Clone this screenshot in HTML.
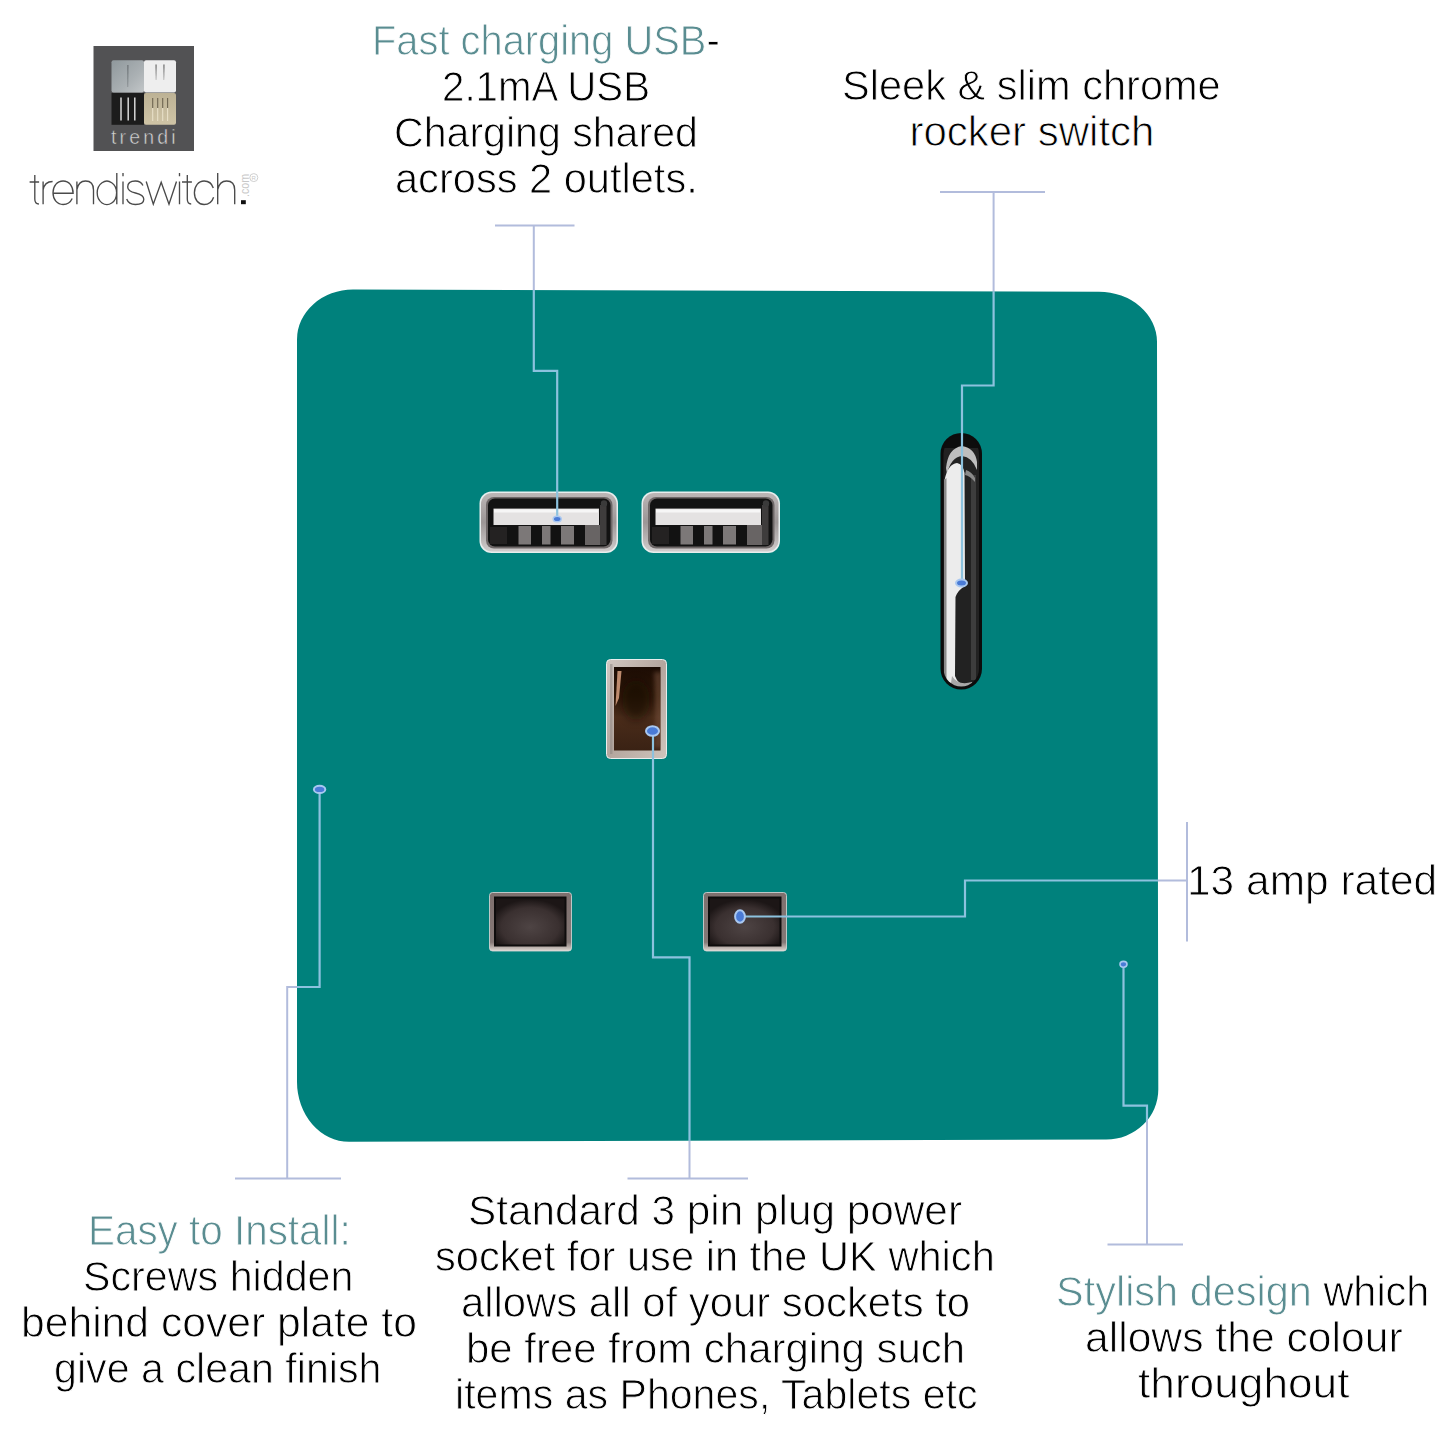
<!DOCTYPE html>
<html><head><meta charset="utf-8">
<style>
html,body{margin:0;padding:0;background:#fff;}
body{width:1445px;height:1445px;position:relative;overflow:hidden;font-family:"Liberation Sans",sans-serif;}
.tx{position:absolute;font-size:42px;line-height:1;white-space:nowrap;color:#000;transform-origin:0 0;-webkit-text-stroke:0.9px #fff;}
.t{color:#5a8d91;}
.abs{position:absolute;}
#plate{position:absolute;left:297px;top:290px;width:861px;height:851px;background:#00817c;border-radius:58px;}
svg{position:absolute;left:0;top:0;}
</style></head><body>
<svg width="1445" height="1445" viewBox="0 0 1445 1445">
  <path id="platep" d="M353 289.5L1099 291.8A58 50 0 0 1 1157 341.8L1158.3 1089.5A52 50 0 0 1 1106.3 1139.5L349 1141.7A52 60 0 0 1 297 1081.7L297 339.5A56 50 0 0 1 353 289.5Z" fill="#00817c"/>
  <defs>
    <linearGradient id="bez" x1="0" y1="0" x2="0" y2="1">
      <stop offset="0" stop-color="#bcb6b6"/><stop offset="0.5" stop-color="#9c9696"/><stop offset="1" stop-color="#d0cccc"/>
    </linearGradient>
    <linearGradient id="sw" x1="0" y1="0" x2="1" y2="0">
      <stop offset="0" stop-color="#1a1a1a"/><stop offset="0.15" stop-color="#9a9a9a"/><stop offset="0.3" stop-color="#f2f2f2"/>
      <stop offset="0.48" stop-color="#d8d8d8"/><stop offset="0.55" stop-color="#3a3a3a"/><stop offset="0.85" stop-color="#2a2a2a"/><stop offset="1" stop-color="#101010"/>
    </linearGradient>
    <linearGradient id="hole" x1="0" y1="0" x2="0" y2="1">
      <stop offset="0" stop-color="#2a2224"/><stop offset="1" stop-color="#5c5052"/>
    </linearGradient>
    <linearGradient id="earth" x1="0" y1="0" x2="1" y2="1">
      <stop offset="0" stop-color="#2a160c"/><stop offset="0.5" stop-color="#5a3420"/><stop offset="1" stop-color="#3a2214"/>
    </linearGradient>
  </defs>
  <!-- logo -->
  <g id="logo">
    <linearGradient id="tl" x1="0" y1="0" x2="1" y2="1"><stop offset="0" stop-color="#8f989c"/><stop offset="0.6" stop-color="#aab0b3"/><stop offset="1" stop-color="#c2c6c8"/></linearGradient>
    <linearGradient id="br" x1="0" y1="0" x2="0" y2="1"><stop offset="0" stop-color="#bdb295"/><stop offset="1" stop-color="#cfc4a6"/></linearGradient>
    <rect x="93.5" y="46" width="100.5" height="105" fill="#525254"/>
    <rect x="111.5" y="60.2" width="32.5" height="32.3" rx="2" fill="url(#tl)"/>
    <rect x="144" y="60.2" width="32" height="32.3" rx="2" fill="#eeeeee"/>
    <rect x="111.5" y="93" width="32.5" height="31.8" fill="#1c1c1c"/>
    <rect x="144" y="93" width="32" height="31.8" rx="2" fill="url(#br)"/>
    <path d="M127.4 65L128.4 65L128.1 87L127.7 87Z" fill="#5e6468"/>
    <path d="M155.5 64.5L156.6 64.5L156.2 80L155.9 80Z" fill="#555"/>
    <path d="M163.4 64.5L164.5 64.5L164.1 80L163.8 80Z" fill="#555"/>
    <line x1="121" y1="97.5" x2="121" y2="120.5" stroke="#e4e4e4" stroke-width="1.4"/>
    <line x1="128.2" y1="97.5" x2="128.2" y2="120.5" stroke="#e4e4e4" stroke-width="1.4"/>
    <line x1="134.8" y1="97.5" x2="134.8" y2="120.5" stroke="#e4e4e4" stroke-width="1.4"/>
    <g stroke-width="1.1"><line x1="152.7" y1="98" x2="152.7" y2="108" stroke="#6e6450"/><line x1="152.7" y1="108" x2="152.7" y2="121" stroke="#e8e0c8"/>
    <line x1="157.7" y1="98" x2="157.7" y2="108" stroke="#6e6450"/><line x1="157.7" y1="108" x2="157.7" y2="121" stroke="#e8e0c8"/>
    <line x1="162.7" y1="98" x2="162.7" y2="108" stroke="#6e6450"/><line x1="162.7" y1="108" x2="162.7" y2="121" stroke="#e8e0c8"/>
    <line x1="167.6" y1="98" x2="167.6" y2="108" stroke="#6e6450"/><line x1="167.6" y1="108" x2="167.6" y2="121" stroke="#e8e0c8"/></g>
    <text x="111" y="143.5" font-family="Liberation Sans" font-size="19.5" fill="#d4d4d4" stroke="#525254" stroke-width="0.45" textLength="64.5" lengthAdjust="spacing">trendi</text>
  </g>

  <g id="tsw" fill="none" stroke="#4a4a4a" stroke-width="1.35" stroke-linecap="butt">
    <path d="M34.8 175V199Q34.8 204 38.9 204M29.6 182H39.1"/>
    <path d="M43.1 181.5V204.3M43.1 190Q44.5 181.5 52.6 181.5"/>
    <path d="M53.3 193.2H73.1C73.1 186 69 181 63.1 181C57.1 181 53 186 53 192.8C53 199.5 57.1 204.5 63.1 204.5C67.6 204.5 70.6 202 72.2 198.5"/>
    <path d="M76.9 181.5V204.3M76.9 189.5C78 184 81 181 85.5 181C90.5 181 93.5 184 93.5 190V204.3"/>
    <path d="M116.8 172.9V204.3M116.6 192.8A9.7 11.7 0 1 0 116.6 192.9"/>
    <path d="M123 181.5V204.3M123 172.9V176.3"/>
    <path d="M142.9 185.6C141.6 182.6 139 181 135.3 181C130.8 181 127.7 183.2 127.7 187C127.7 191 131.2 192.1 135.5 193C140.1 194 143.8 195.5 143.8 199.3C143.8 202.7 140.2 204.5 135.4 204.5C131.1 204.5 128 202.6 126.7 199"/>
    <path d="M146.2 181.5L153.3 204.2L161.2 182.2L169 204.2L176.5 181.5"/>
    <path d="M179.5 181.5V204.3M179.5 172.9V176.3"/>
    <path d="M187.3 175V199Q187.3 204 191.2 204M182 182H191.9"/>
    <path d="M213.3 188C211.9 183.5 208.5 181 204.1 181C198.5 181 194.4 186 194.4 192.8C194.4 199.6 198.5 204.5 204.1 204.5C208.6 204.5 212 202 213.6 197.2"/>
    <path d="M217.7 172.9V204.3M217.7 189.5C218.9 184 222 181 226.6 181C231.6 181 234.7 184 234.7 190V204.3"/>
  </g>
  <rect x="241" y="200.2" width="4.8" height="4" fill="#111"/>
  <text transform="translate(248.6 197) rotate(-90)" font-family="Liberation Sans" font-size="12.5" fill="#c8c8c8" textLength="23" lengthAdjust="spacingAndGlyphs">.com</text>
  <circle cx="253.8" cy="177.6" r="4" fill="none" stroke="#d0d0d0" stroke-width="1"/>
  <text x="251.6" y="180" font-family="Liberation Sans" font-size="6" fill="#c8c8c8">R</text>
  <!-- USB ports -->
  <g id="usb1">
    <rect x="479.5" y="491.5" width="138.5" height="61.5" rx="12" fill="#e8eeee"/>
    <rect x="481" y="493" width="135.5" height="58.5" rx="11" fill="url(#bez)"/>
    <rect x="486" y="497" width="126.5" height="51.5" rx="8" fill="#6e6868"/>
    <rect x="488" y="498.5" width="122.5" height="48" rx="7" fill="#121212"/>
    <rect x="493.5" y="508.6" width="105.5" height="16.4" fill="#e4e2e2"/>
    <rect x="494" y="509.5" width="104" height="3" fill="#f6f6f6"/>
    <rect x="490" y="527" width="17" height="17" fill="#242222"/>
    <rect x="518.5" y="526" width="12.5" height="18.5" fill="#7c7878"/>
    <rect x="542" y="526" width="8.5" height="18.5" fill="#7c7878"/>
    <rect x="561" y="526" width="13" height="18.5" fill="#7c7878"/>
    <rect x="585" y="525" width="16" height="20" fill="#686464"/>
    <rect x="600" y="505" width="6.5" height="40" fill="#3e3c3c"/>
    <circle cx="604" cy="503.5" r="3.2" fill="#3a3a3a"/>
  </g>
  <use href="#usb1" x="162" y="0"/>
  <!-- switch -->
  <clipPath id="swc"><rect x="943.5" y="436" width="35.5" height="250.5" rx="17.7"/></clipPath>
  <filter id="swb" x="-20%" y="-5%" width="140%" height="110%"><feGaussianBlur stdDeviation="0.7"/></filter>
  <rect x="940.5" y="433" width="41.5" height="256.5" rx="20.7" fill="#0c0c0c"/>
  <g clip-path="url(#swc)"><g filter="url(#swb)">
    <rect x="940" y="430" width="45" height="265" fill="#202020"/>
    <rect x="940" y="430" width="45" height="18" fill="#0e0e0e"/>
    <rect x="971" y="475" width="5" height="205" fill="#3c3c3c"/>
    <path d="M946 468Q948 448 962 446Q975 448 977 462L977 470Q972 457 962 456Q951 457 947 474Z" fill="#bebebe"/>
    <path d="M966 470Q972 472 975 478L975 482Q970 476 965 475Z" fill="#8a8a8a"/>
    <path d="M944.5 480Q948 464 957 463Q963 464 964.5 473L965 586Q958 590 955.5 597L955 676Q958 684 966 687L944 690Z" fill="#ececec"/>
    <path d="M944 480L946.5 478L946.5 682L944 684Z" fill="#8a8a8a"/>
    <path d="M952 676Q958 686 972 682L976 690L950 690Z" fill="#a8a8a8"/>
  </g></g>
  <!-- earth -->
  <linearGradient id="ebz" x1="0" y1="0" x2="1" y2="1"><stop offset="0" stop-color="#d2c8c2"/><stop offset="0.5" stop-color="#b4a69e"/><stop offset="1" stop-color="#cfc4bc"/></linearGradient>
  <linearGradient id="ein" x1="0" y1="0" x2="0" y2="1"><stop offset="0" stop-color="#1c0c04"/><stop offset="0.35" stop-color="#2e1808"/><stop offset="0.6" stop-color="#4a2c1a"/><stop offset="1" stop-color="#3a2214"/></linearGradient>
  <rect x="606.5" y="659.5" width="60" height="99" rx="4" fill="url(#ebz)" stroke="#e9eeee" stroke-width="1"/>
  <rect x="610" y="664" width="2.5" height="90" fill="#8c8480" opacity="0.5"/>
  <rect x="614" y="667" width="46.5" height="83.5" fill="url(#ein)"/>
  <filter id="bl4" x="-50%" y="-50%" width="200%" height="200%"><feGaussianBlur stdDeviation="4"/></filter><filter id="bl2" x="-50%" y="-50%" width="200%" height="200%"><feGaussianBlur stdDeviation="2"/></filter>
  <clipPath id="ecl"><rect x="614" y="667" width="46.5" height="83.5"/></clipPath>
  <g clip-path="url(#ecl)"><ellipse cx="636" cy="700" rx="14" ry="20" fill="#140804" opacity="0.6" filter="url(#bl4)"/>
  <path d="M654 672L662 672L662 748L654 748Q657 720 654 672Z" fill="#7a5440" opacity="0.55" filter="url(#bl2)"/></g>
  <path d="M617.5 671L621.5 671L619 698L615.5 706Z" fill="#d8a080" opacity="0.85"/>
  <!-- neutral/live -->
  <linearGradient id="nbz" x1="0" y1="0" x2="0" y2="1"><stop offset="0" stop-color="#7e706e"/><stop offset="0.85" stop-color="#857876"/><stop offset="1" stop-color="#e0d8d2"/></linearGradient>
  <radialGradient id="nin" cx="0.5" cy="0.62" r="0.6"><stop offset="0" stop-color="#4e4444"/><stop offset="0.7" stop-color="#3a3030"/><stop offset="1" stop-color="#1c1616"/></radialGradient>
  <rect x="489.5" y="892.5" width="82" height="58.5" rx="3" fill="url(#nbz)" stroke="#dcdcdc" stroke-width="0.8"/>
  <rect x="494" y="896.5" width="72.5" height="50" fill="#0e0c0c"/>
  <rect x="496" y="898.5" width="68.5" height="46" fill="url(#nin)"/>
  <rect x="703.5" y="892.5" width="83" height="58.5" rx="3" fill="url(#nbz)" stroke="#dcdcdc" stroke-width="0.8"/>
  <rect x="708" y="896.5" width="73.5" height="50" fill="#0e0c0c"/>
  <rect x="710" y="898.5" width="69.5" height="46" fill="url(#nin)"/>
  <!-- connectors -->
  <clipPath id="inplate"><path d="M353 289.5L1099 291.8A58 50 0 0 1 1157 341.8L1158.3 1089.5A52 50 0 0 1 1106.3 1139.5L349 1141.7A52 60 0 0 1 297 1081.7L297 339.5A56 50 0 0 1 353 289.5Z"/></clipPath>
  <mask id="outplate"><rect width="1445" height="1445" fill="#fff"/><path d="M353 289.5L1099 291.8A58 50 0 0 1 1157 341.8L1158.3 1089.5A52 50 0 0 1 1106.3 1139.5L349 1141.7A52 60 0 0 1 297 1081.7L297 339.5A56 50 0 0 1 353 289.5Z" fill="#000"/></mask>
  <g fill="none" stroke="#b2bcdc" stroke-width="2" mask="url(#outplate)">
    <path d="M495 225.5H574.5M533.8 225.5V370.8H557.2V519"/>
    <path d="M940 192H1045M993.6 192V385.5H962V583"/>
    <path d="M627.5 1178.5H748M689.5 1178.5V957.3H653V731"/>
    <path d="M1187 822V941.5M1187 880.5H965V916.5H740"/>
    <path d="M235 1178.5H341M287.2 1178.5V987H319.6V789.4"/>
    <path d="M1107.5 1244.5H1183M1147 1244.5V1105.6H1123.5V964.3"/>
  </g>
  <g fill="none" stroke="#8cc2de" stroke-width="2.2" clip-path="url(#inplate)">
    <path d="M495 225.5H574.5M533.8 225.5V370.8H557.2V519"/>
    <path d="M940 192H1045M993.6 192V385.5H962V583"/>
    <path d="M627.5 1178.5H748M689.5 1178.5V957.3H653V731"/>
    <path d="M1187 822V941.5M1187 880.5H965V916.5H740"/>
    <path d="M235 1178.5H341M287.2 1178.5V987H319.6V789.4"/>
    <path d="M1107.5 1244.5H1183M1147 1244.5V1105.6H1123.5V964.3"/>
  </g>
  <g fill="#4a7bd6" stroke="#a9c8f0" stroke-width="2">
    <ellipse cx="557.2" cy="519" rx="4" ry="2.8" stroke-width="1.5"/>
    <ellipse cx="961.5" cy="583" rx="5.5" ry="3.5"/>
    <ellipse cx="652.5" cy="731" rx="6.5" ry="4.8"/>
    <ellipse cx="740" cy="916.5" rx="4.9" ry="6.3"/>
    <ellipse cx="319.6" cy="789.4" rx="5.7" ry="3.6"/>
    <ellipse cx="1123.5" cy="964.3" rx="3.5" ry="2.9" stroke-width="1.6"/>
  </g>
</svg>
<div class="tx" style="left:371.7px;top:20.0px;transform:scaleX(0.9486)"><span class=t>Fast charging USB</span>-</div>
<div class="tx" style="left:441.5px;top:66.0px;transform:scaleX(0.9583)">2.1mA USB</div>
<div class="tx" style="left:393.6px;top:112.0px;transform:scaleX(0.9786)">Charging shared</div>
<div class="tx" style="left:395.0px;top:158.0px;transform:scaleX(0.9900)">across 2 outlets.</div>
<div class="tx" style="left:841.5px;top:65.1px;transform:scaleX(0.9894)">Sleek &amp; slim chrome</div>
<div class="tx" style="left:909.4px;top:111.1px;transform:scaleX(1.0000)">rocker switch</div>
<div class="tx" style="left:1187.4px;top:859.5px;transform:scaleX(1.0108)">13 amp rated</div>
<div class="tx" style="left:87.7px;top:1210.0px;transform:scaleX(0.9619)"><span class=t>Easy to Install:</span></div>
<div class="tx" style="left:83.2px;top:1256.0px;transform:scaleX(0.9818)">Screws hidden</div>
<div class="tx" style="left:21.0px;top:1302.3px;transform:scaleX(1.0153)">behind cover plate to</div>
<div class="tx" style="left:54.4px;top:1347.7px;transform:scaleX(0.9809)">give a clean finish</div>
<div class="tx" style="left:467.7px;top:1189.9px;transform:scaleX(1.0074)">Standard 3 pin plug power</div>
<div class="tx" style="left:435.0px;top:1236.0px;transform:scaleX(0.9909)">socket for use in the UK which</div>
<div class="tx" style="left:460.9px;top:1282.0px;transform:scaleX(0.9959)">allows all of your sockets to</div>
<div class="tx" style="left:465.5px;top:1327.7px;transform:scaleX(0.9990)">be free from charging such</div>
<div class="tx" style="left:454.5px;top:1374.2px;transform:scaleX(0.9788)">items as Phones, Tablets etc</div>
<div class="tx" style="left:1056.0px;top:1271.0px;transform:scaleX(0.9874)"><span class=t>Stylish design</span> which</div>
<div class="tx" style="left:1084.7px;top:1317.0px;transform:scaleX(1.0152)">allows the colour</div>
<div class="tx" style="left:1138.2px;top:1363.4px;transform:scaleX(1.0528)">throughout</div>
</body></html>
